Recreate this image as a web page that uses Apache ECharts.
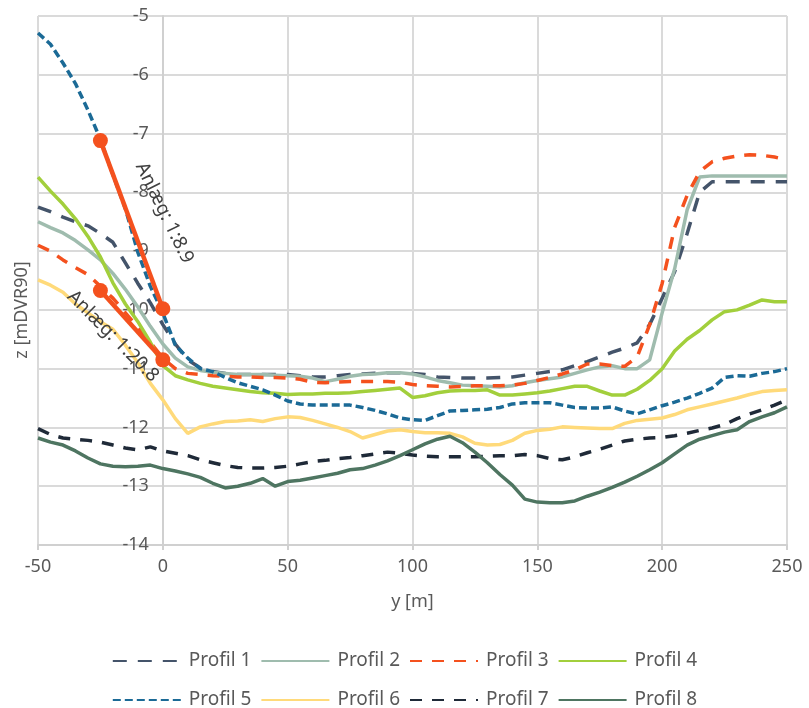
<!DOCTYPE html>
<html>
<head>
<meta charset="utf-8">
<script src="https://cdn.jsdelivr.net/npm/echarts@6/dist/echarts.min.js"></script>
<style>
html,body{margin:0;padding:0;background:#fff;}
#chart{width:809px;height:708px;}
</style>
</head>
<body>
<div id="chart"></div>
<script>
// x positions (y [m])
const xs = [-50,-45,-40,-35,-30,-25,-20,-15,-10,-5,0,5,10,15,20,25,30,35,40,45,50,55,60,65,70,75,80,85,90,95,100,105,110,115,120,125,130,135,140,145,150,155,160,165,170,175,180,185,190,195,200,205,210,215,220,225,230,235,240,245,250];

const profil1 = [-8.25,-8.33,-8.42,-8.5,-8.57,-8.7,-8.85,-9.2,-9.55,-9.88,-10.25,-10.58,-10.85,-10.99,-11.05,-11.08,-11.1,-11.1,-11.1,-11.1,-11.1,-11.12,-11.14,-11.14,-11.12,-11.1,-11.09,-11.08,-11.07,-11.07,-11.08,-11.1,-11.14,-11.15,-11.16,-11.16,-11.16,-11.15,-11.14,-11.11,-11.08,-11.05,-11.02,-10.95,-10.88,-10.8,-10.72,-10.65,-10.56,-10.25,-9.8,-9.35,-8.7,-8.0,-7.82,-7.82,-7.82,-7.82,-7.82,-7.82,-7.82];
const profil2 = [-8.5,-8.6,-8.69,-8.82,-8.98,-9.15,-9.38,-9.65,-9.95,-10.28,-10.58,-10.82,-10.97,-11.03,-11.06,-11.08,-11.1,-11.1,-11.1,-11.11,-11.12,-11.13,-11.16,-11.22,-11.18,-11.13,-11.1,-11.09,-11.07,-11.07,-11.09,-11.14,-11.2,-11.24,-11.28,-11.29,-11.3,-11.31,-11.29,-11.24,-11.2,-11.17,-11.14,-11.08,-11.02,-10.97,-10.95,-11.0,-11.0,-10.85,-10.05,-9.3,-8.3,-7.74,-7.72,-7.72,-7.72,-7.72,-7.72,-7.72,-7.72];
const profil3 = [-8.9,-9.0,-9.15,-9.28,-9.4,-9.6,-9.8,-10.05,-10.3,-10.55,-10.82,-11.0,-11.08,-11.1,-11.12,-11.13,-11.14,-11.14,-11.15,-11.15,-11.16,-11.18,-11.23,-11.24,-11.23,-11.22,-11.22,-11.22,-11.22,-11.23,-11.27,-11.29,-11.3,-11.31,-11.3,-11.29,-11.29,-11.29,-11.28,-11.25,-11.2,-11.15,-11.09,-11.02,-10.92,-10.92,-10.95,-10.96,-10.8,-10.25,-9.55,-8.6,-8.05,-7.65,-7.48,-7.42,-7.38,-7.36,-7.37,-7.4,-7.45];
const profil4 = [-7.74,-7.98,-8.2,-8.45,-8.75,-9.1,-9.54,-9.9,-10.2,-10.55,-10.95,-11.12,-11.19,-11.25,-11.3,-11.33,-11.36,-11.39,-11.41,-11.42,-11.44,-11.43,-11.43,-11.42,-11.42,-11.41,-11.39,-11.37,-11.35,-11.33,-11.49,-11.46,-11.41,-11.38,-11.37,-11.37,-11.36,-11.45,-11.45,-11.43,-11.41,-11.38,-11.34,-11.3,-11.3,-11.38,-11.45,-11.45,-11.35,-11.2,-11.0,-10.7,-10.5,-10.35,-10.17,-10.03,-10.0,-9.92,-9.83,-9.86,-9.86];
const profil5 = [-5.29,-5.48,-5.8,-6.15,-6.6,-7.1,-7.7,-8.28,-9.02,-9.6,-10.05,-10.6,-10.82,-11.0,-11.05,-11.15,-11.24,-11.3,-11.36,-11.45,-11.55,-11.6,-11.62,-11.62,-11.62,-11.62,-11.66,-11.71,-11.77,-11.84,-11.87,-11.88,-11.8,-11.72,-11.71,-11.7,-11.69,-11.66,-11.6,-11.58,-11.58,-11.58,-11.62,-11.66,-11.67,-11.67,-11.65,-11.72,-11.77,-11.7,-11.63,-11.57,-11.5,-11.42,-11.33,-11.15,-11.12,-11.13,-11.08,-11.05,-11.0];
const profil6 = [-9.49,-9.58,-9.7,-9.9,-10.05,-10.2,-10.33,-10.6,-10.9,-11.25,-11.53,-11.85,-12.1,-11.99,-11.94,-11.9,-11.89,-11.87,-11.9,-11.85,-11.82,-11.83,-11.88,-11.94,-12.0,-12.07,-12.18,-12.12,-12.06,-12.04,-12.07,-12.09,-12.09,-12.1,-12.16,-12.27,-12.3,-12.29,-12.22,-12.1,-12.05,-12.03,-11.99,-12.0,-12.01,-12.02,-12.02,-11.93,-11.88,-11.86,-11.84,-11.78,-11.7,-11.65,-11.6,-11.55,-11.5,-11.44,-11.39,-11.37,-11.36];
const profil7 = [-12.02,-12.12,-12.18,-12.2,-12.22,-12.25,-12.3,-12.35,-12.38,-12.33,-12.4,-12.44,-12.48,-12.55,-12.6,-12.65,-12.68,-12.69,-12.69,-12.68,-12.66,-12.62,-12.58,-12.56,-12.53,-12.51,-12.48,-12.45,-12.42,-12.44,-12.47,-12.49,-12.5,-12.5,-12.5,-12.5,-12.49,-12.48,-12.48,-12.46,-12.48,-12.53,-12.55,-12.5,-12.43,-12.37,-12.3,-12.23,-12.2,-12.18,-12.17,-12.14,-12.1,-12.05,-12.01,-11.95,-11.85,-11.77,-11.7,-11.62,-11.53];
const profil8 = [-12.18,-12.25,-12.3,-12.4,-12.52,-12.62,-12.66,-12.67,-12.66,-12.64,-12.7,-12.74,-12.79,-12.85,-12.95,-13.03,-13.0,-12.95,-12.87,-13.0,-12.92,-12.9,-12.86,-12.82,-12.78,-12.72,-12.7,-12.64,-12.57,-12.48,-12.38,-12.28,-12.2,-12.15,-12.26,-12.42,-12.6,-12.8,-12.98,-13.22,-13.27,-13.28,-13.28,-13.25,-13.17,-13.1,-13.02,-12.93,-12.83,-12.72,-12.6,-12.45,-12.3,-12.2,-12.14,-12.08,-12.04,-11.9,-11.82,-11.75,-11.65];

// slope lines (Anlæg)
const anlaegX = [-25, 0];
const anlaeg1Y = [-7.12, -9.98];
const anlaeg2Y = [-9.67, -10.85];

const names = ['Profil 1','Profil 2','Profil 3','Profil 4','Profil 5','Profil 6','Profil 7','Profil 8'];
const values = [profil1,profil2,profil3,profil4,profil5,profil6,profil7,profil8];
const xTicks = [-50, 0, 50, 100, 150, 200, 250];

const styles = [
  {color:'#44546A', type:[14,11]},
  {color:'#9FBCAE', type:'solid'},
  {color:'#F4511E', type:[12,10]},
  {color:'#A2CF3C', type:'solid'},
  {color:'#1B6A96', type:[8,4]},
  {color:'#FFDA7A', type:'solid'},
  {color:'#1F2A38', type:[12,10]},
  {color:'#4E7561', type:'solid'}
];

const zip = (a, b) => a.map((v, i) => [v, b[i]]);

const series = names.map((n, i) => ({
  name: n,
  type: 'line',
  data: zip(xs, values[i]),
  symbol: 'none',
  showSymbol: false,
  smooth: false,
  lineStyle: {color: styles[i].color, width: 3.5, type: styles[i].type},
  itemStyle: {color: styles[i].color},
  z: 2
}));

[anlaeg1Y, anlaeg2Y].forEach((ys, k) => {
  series.push({
    name: 'Anlæg ' + (k + 1),
    type: 'line',
    data: zip(anlaegX, ys),
    symbol: 'circle',
    symbolSize: 15,
    showSymbol: true,
    lineStyle: {color: '#F4511E', width: 4.5},
    itemStyle: {color: '#F4511E'},
    z: 5
  });
});

const textColor = '#595959';
const font = '"Noto Sans", "DejaVu Sans", sans-serif';

const chart = echarts.init(document.getElementById('chart'), null, {renderer: 'canvas'});
chart.setOption({
  animation: false,
  backgroundColor: '#ffffff',
  textStyle: {fontFamily: font},
  grid: {left: 38, right: 22, top: 16, bottom: 163, containLabel: false},
  xAxis: {
    type: 'value', min: -50, max: 250, interval: 50,
    name: 'y [m]', nameLocation: 'middle', nameGap: 48,
    nameTextStyle: {fontSize: 18, color: textColor, fontFamily: font},
    axisLine: {show: true, lineStyle: {color: '#d0d0d0', width: 2}},
    axisTick: {show: true, length: 5, lineStyle: {color: '#d0d0d0', width: 2}},
    axisLabel: {fontSize: 18, color: textColor, margin: 13, fontFamily: font,
      formatter: v => xTicks.includes(v) ? String(v) : ''},
    splitLine: {show: true, lineStyle: {color: '#dadada', width: 2}}
  },
  yAxis: {
    type: 'value', min: -14, max: -5, interval: 1,
    offset: -124.8,
    axisLine: {show: true, onZero: false, lineStyle: {color: '#d0d0d0', width: 2}},
    axisTick: {show: false},
    axisLabel: {fontSize: 18, color: textColor, margin: 14, fontFamily: font},
    splitLine: {show: true, lineStyle: {color: '#dadada', width: 2}}
  },
  legend: {
    data: names,
    left: 'center',
    top: 641,
    width: 620,
    itemWidth: 68,
    itemHeight: 30,
    itemGap: 9,
    itemStyle: {opacity: 0},
    textStyle: {fontSize: 19, lineHeight: 30, color: textColor, fontFamily: font, padding: [0,0,0,3]}
  },
  series: series
});

// annotations for slopes, placed through the chart's scales
const labels = [
  {text: 'Anlæg: 1:8.9', at: [0.6, -8.35], angle: -64},
  {text: 'Anlæg: 1:20.8', at: [-20, -10.45], angle: -45}
];
const graphics = labels.map(l => {
  const p = chart.convertToPixel({gridIndex: 0}, l.at);
  return {
    type: 'text', x: p[0], y: p[1], rotation: l.angle * Math.PI / 180, z: 10,
    style: {text: l.text, fill: '#404040', fontSize: 19, fontFamily: font, align: 'center', verticalAlign: 'middle'}
  };
});
graphics.push({
  type: 'text', x: 22, y: 310, rotation: Math.PI / 2, z: 10,
  style: {text: 'z [mDVR90]', fill: textColor, fontSize: 18, fontFamily: font, align: 'center', verticalAlign: 'middle'}
});
chart.setOption({graphic: graphics});
</script>
</body>
</html>
